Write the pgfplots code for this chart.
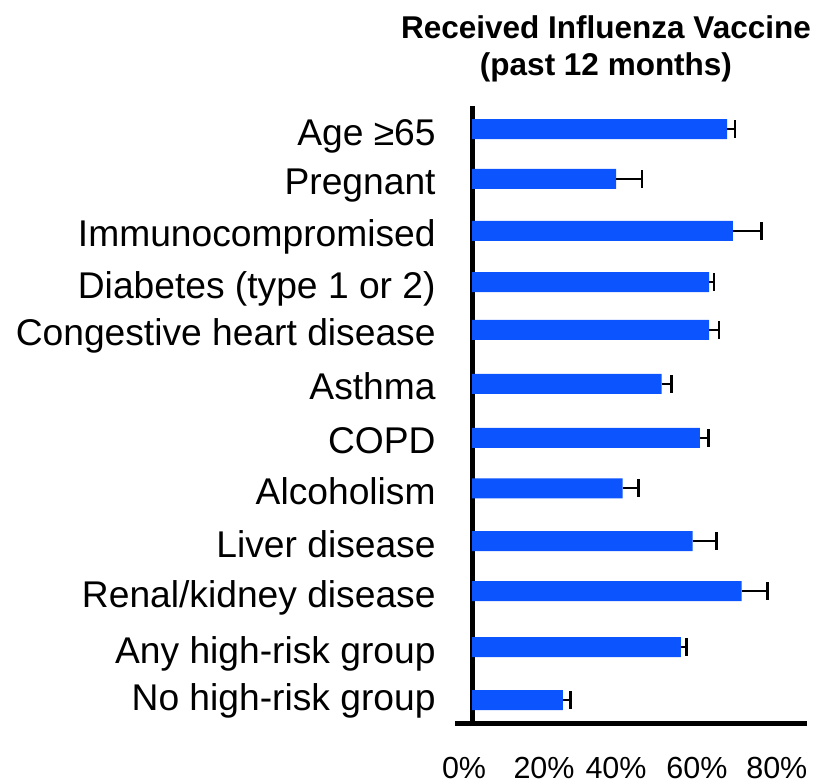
\documentclass[border=0pt]{standalone}
\usepackage{fontspec}
\setmainfont{Liberation Sans}
\usepackage{pgfplots}
\pgfplotsset{compat=1.18}
\usepackage{pgfplotstable}
\definecolor{barblue}{HTML}{0C54FE}

\pgfplotstableread{
y x err
0.00 21.7 1.9
1.02 49.9 1.4
2.10 64.4 6.2
3.06 52.7 5.7
4.08 36.0 3.8
5.05 54.4 2.1
6.09 45.3 2.4
7.13 56.6 2.4
8.05 56.6 1.2
9.04 62.3 6.9
10.04 34.4 6.2
11.00 60.9 1.9
}\datatable

\begin{document}
\begin{tikzpicture}
\useasboundingbox (-227.5pt,-30pt) rectangle (181pt,361.5pt);
\begin{axis}[
  scale only axis,
  width=176pt, height=308.5pt,
  xmin=-4.06, xmax=80, ymin=-0.443, ymax=11.445,
  axis lines*=left,
  x axis line style={line width=2.5pt},
  y axis line style={draw=none},
  major tick length=0pt,
  tick style={draw=none},
  /pgf/number format/assume math mode=true,
  xtick={-1.9,17.2,34.4,53.7,72.8},
  xticklabels={0\%,20\%,40\%,60\%,80\%},
  xticklabel style={font=\fontsize{15.25}{18}\selectfont, anchor=north, inner sep=0pt, yshift=-17pt},
  ytick={0.116,1.02,2.10,3.06,4.08,5.05,6.09,7.13,8.05,9.04,10.04,11},
  yticklabels={No high-risk group,Any high-risk group,Renal/kidney disease,Liver disease,Alcoholism,COPD,Asthma,Congestive heart disease,Diabetes (type 1 or 2),Immunocompromised,Pregnant,Age ≥65},
  yticklabel style={font=\fontsize{18.6}{22}\selectfont, anchor=base east, inner sep=0pt, xshift=-9.5pt, yshift=-8pt},
  extra x ticks={0},
  extra x tick labels={},
  extra x tick style={grid=major, major grid style={black, line width=2.5pt}, tick style={draw=none}},
  title={Received Influenza Vaccine\\(past 12 months)},
  title style={at={(0.429,1.073)}, anchor=center, align=center, inner sep=0pt, font=\bfseries\fontsize{15.75}{18.5}\selectfont},
]
\addplot[xbar, bar width=0.385, fill=barblue, draw=none,
  error bars/.cd, x dir=plus, x explicit, error mark=|,
  error bar style={black, line width=1.15pt},
  error mark options={black, line width=1.4pt, mark size=4.4pt}]
  table[x=x, y=y, x error=err] {\datatable};
\end{axis}
\end{tikzpicture}
\end{document}
